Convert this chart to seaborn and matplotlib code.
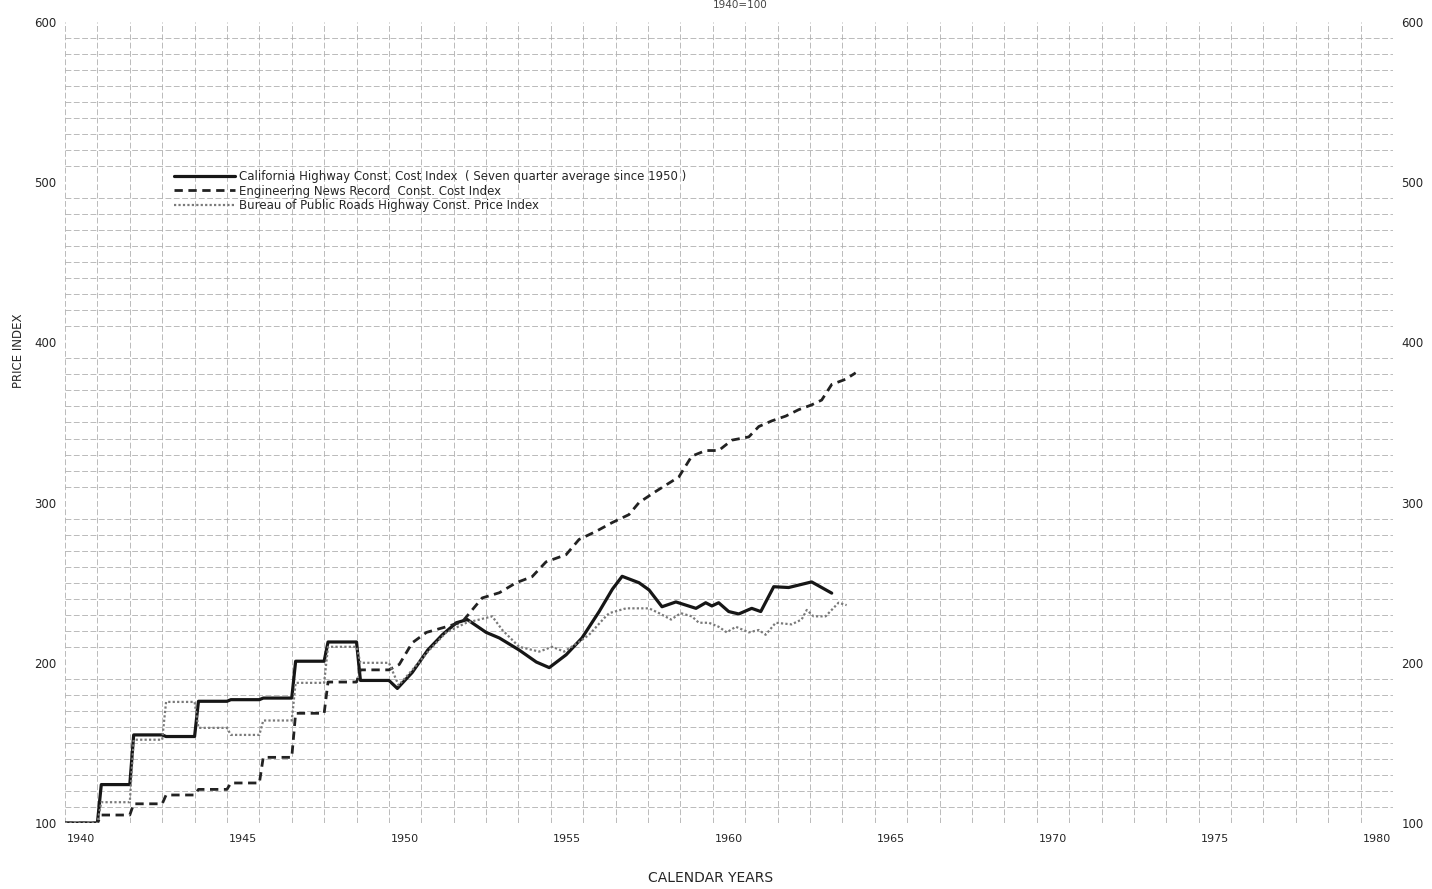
import numpy as np
import seaborn as sns
import matplotlib.pyplot as plt
from matplotlib.ticker import MultipleLocator

# annual values 1940-1949 (step data)
years = [1940, 1941, 1942, 1943, 1944, 1945, 1946, 1947, 1948, 1949]
cal_annual = [100, 124, 155, 154, 176, 177, 178, 201, 213, 189]
enr_annual = [100, 105, 112, 117.5, 121, 125, 141, 168.5, 188, 195.6]
bpr_annual = [100, 113, 152, 175.6, 159.4, 155, 164, 187.5, 210, 200]

# California: seven quarter average since 1950
cal_t = [1950.26, 1950.72, 1951.2, 1951.65, 1952.08, 1952.42, 1953.0, 1953.41,
         1954.02, 1954.55, 1954.95, 1955.47, 1955.96, 1956.49, 1956.9, 1957.2,
         1957.72, 1958.03, 1958.43, 1958.86, 1959.48, 1959.78, 1959.97, 1960.18,
         1960.49, 1960.8, 1961.2, 1961.48, 1961.88, 1962.34, 1963.05, 1963.67]
cal_v = [184, 194, 208, 217.5, 225, 227, 219, 215.5,
         208, 200.5, 197, 205, 215.5, 232, 246, 254,
         250, 245.5, 235, 238, 234, 237.5, 235.5, 237.5,
         232, 230.5, 234, 232, 247.5, 247, 250.5, 243.5]

# Engineering News Record
enr_t = [1950.32, 1950.72, 1951.16, 1951.77, 1952.26, 1952.57, 1952.88, 1953.41,
         1953.93, 1954.42, 1954.85, 1955.47, 1955.87, 1956.39, 1956.89, 1957.41,
         1957.72, 1958.24, 1958.95, 1959.35, 1959.78, 1960.18, 1960.59, 1961.11,
         1961.42, 1961.82, 1962.25, 1962.65, 1963.05, 1963.36, 1963.67, 1964.1, 1964.41]
enr_v = [199, 212.5, 219, 222.5, 225.5, 233, 240.5, 243.75,
         250, 253.75, 263, 267.5, 277, 282, 287.5, 292.5,
         300, 307, 316, 329, 332.5, 332.5, 339, 341,
         347.5, 351, 354, 358, 361, 364, 373.75, 377, 381]

# Bureau of Public Roads
bpr_t = [1950.3, 1950.72, 1951.25, 1951.77, 1952.39, 1952.79, 1953.19, 1953.5,
         1954.02, 1954.64, 1955.04, 1955.41, 1955.87, 1956.18, 1956.65, 1956.8,
         1957.32, 1958.03, 1958.34, 1958.71, 1959.01, 1959.35, 1959.57, 1959.88,
         1960.18, 1960.43, 1960.71, 1961.11, 1961.42, 1961.63, 1961.94, 1962.43,
         1962.74, 1962.9, 1963.11, 1963.48, 1963.88, 1964.13]
bpr_v = [186, 195.5, 208, 219, 225, 227, 229, 220.5,
         210, 207, 210, 207, 213, 217.5, 228, 231,
         234, 234, 231, 227, 231, 229, 225, 225,
         222.5, 219, 222.5, 219, 220.5, 217.5, 225, 224,
         227, 233, 229, 229, 237.5, 236]

labels = ["California Highway Const. Cost Index  ( Seven quarter average since 1950 )",
          "Engineering News Record  Const. Cost Index",
          "Bureau of Public Roads Highway Const. Price Index"]

x_labels = ["1940", "1945", "1950", "1955", "1960", "1965", "1970", "1975", "1980"]
y_ticks = [100, 200, 300, 400, 500, 600]


def build(yrs, vals, t, v, ramp=0.12):
    xs, ys = [], []
    for i, (yr, val) in enumerate(zip(yrs, vals)):
        xs += [yr if i == 0 else yr + ramp, yr + 1]
        ys += [val, val]
    return xs + list(t), ys + list(v)


sns.set_style("white")
plt.rcParams['font.family'] = ['DejaVu Sans']

fig = plt.figure(figsize=(14.32, 8.89), dpi=100)
ax = fig.add_axes([0.0454, 0.0742, 0.9274, 0.9011])

cx, cy = build(years, cal_annual, cal_t, cal_v)
ex, ey = build(years, enr_annual, enr_t, enr_v)
bx, by = build(years, bpr_annual, bpr_t, bpr_v)

sns.lineplot(x=cx, y=cy, sort=False, estimator=None, ax=ax, color="#161616",
             lw=2.3, label=labels[0])
sns.lineplot(x=ex, y=ey, sort=False, estimator=None, ax=ax, color="#222222",
             lw=2.0, linestyle=(0, (3, 2)), label=labels[1])
sns.lineplot(x=bx, y=by, sort=False, estimator=None, ax=ax, color="#7a7a7a",
             lw=1.6, linestyle=(0, (1, 1)), label=labels[2])

ax.set_xlim(1940, 1981)
ax.set_ylim(100, 600)

# grid: every year and every 10 index points
ax.xaxis.set_minor_locator(MultipleLocator(1))
ax.yaxis.set_minor_locator(MultipleLocator(10))
ax.grid(which='minor', color='#b0b0b0', lw=0.6, linestyle=(0, (7, 3)))
ax.grid(which='major', visible=False)
ax.set_axisbelow(True)

ax.set_xticks([int(s) + 0.5 for s in x_labels])
ax.set_xticklabels(x_labels, fontsize=8)
ax.set_yticks(y_ticks)
ax.set_yticklabels([str(v) for v in y_ticks], fontsize=8.5)
ax.tick_params(which='both', length=0)
ax.tick_params(axis='x', pad=8)
ax.tick_params(axis='y', labelright=True, pad=6)
for s in ax.spines.values():
    s.set_visible(False)

ax.set_xlabel("")
ax.set_ylabel("")
fig.text(0.496, 0.012, "CALENDAR YEARS", fontsize=10, ha='center', va='center')
fig.text(0.013, 0.606, "PRICE INDEX", fontsize=8.5, rotation=90, ha='center', va='center')
fig.text(0.517, 0.994, "1940=100", fontsize=7.5, ha='center', va='center', color='#444444')

ax.legend(loc='upper left', bbox_to_anchor=(0.082, 0.815), frameon=False,
          fontsize=8.5, handlelength=5.2, handletextpad=0.3, labelspacing=0.12,
          borderaxespad=0, borderpad=0)

fig.savefig("out.png", dpi=100)
